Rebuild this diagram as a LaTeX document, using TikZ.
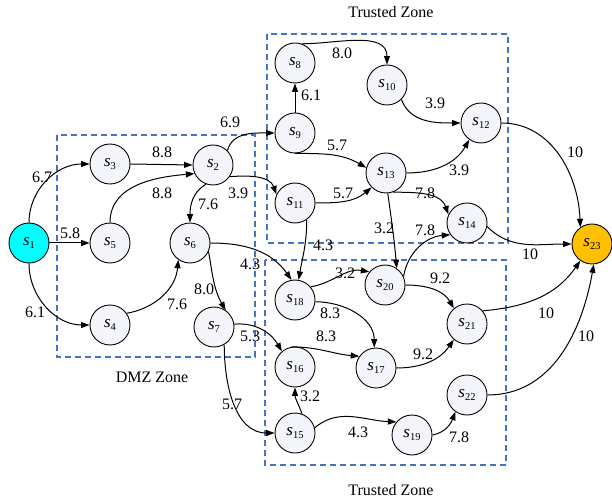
\documentclass[tikz,border=0pt]{standalone}
\usepackage{fontspec}
\setmainfont{Liberation Serif}
\usetikzlibrary{arrows.meta}
\definecolor{zoneblue}{RGB}{68,114,196}
\definecolor{nodefill}{RGB}{244,245,250}
\definecolor{srccyan}{RGB}{0,255,255}
\definecolor{dstgold}{RGB}{255,192,0}
% state name: italic s with a lowered index
\newcommand{\stname}[1]{\textit{s}\raisebox{-3.5pt}{\fontsize{10.5}{10.5}\selectfont #1}}
\tikzset{
  state/.style={circle, draw, line width=0.9pt, minimum size=40pt, inner sep=0pt,
    fill=nodefill, font=\fontsize{17}{17}\selectfont},
  source/.style={state, fill=srccyan},
  target/.style={state, fill=dstgold},
  wt/.style={font=\fontsize{16}{16}\selectfont, inner sep=0pt},
  zonelabel/.style={font=\fontsize{16}{16}\selectfont, inner sep=0pt},
  link/.style={line width=1pt, -{Triangle[length=8.5pt,width=6pt]}},
  zone/.style={draw=zoneblue, dash pattern=on 6pt off 4pt, line width=1.2pt}
}
\begin{document}
\begin{tikzpicture}[x=1pt,y=1pt]
\useasboundingbox (0,0) rectangle (612,-502);

% zones
\draw[zone] (57,-135) rectangle (255,-357);
\draw[zone] (267,-34) rectangle (508,-243);
\draw[zone] (265,-260) rectangle (506,-465);
\node[zonelabel] (zdmz) at (152,-377) {DMZ Zone};
\node[zonelabel] (ztop) at (391,-12) {Trusted Zone};
\node[zonelabel] (zbot) at (391,-490) {Trusted Zone};

% states
\node[source] (s1)  at (29,-243)  {\stname{1}};
\node[state]  (s3)  at (110,-164) {\stname{3}};
\node[state]  (s5)  at (110,-243) {\stname{5}};
\node[state]  (s4)  at (110,-325) {\stname{4}};
\node[state]  (s2)  at (213,-165) {\stname{2}};
\node[state]  (s6)  at (190,-243) {\stname{6}};
\node[state]  (s7)  at (214,-327) {\stname{7}};
\node[state]  (s8)  at (295,-63)  {\stname{8}};
\node[state]  (s9)  at (295,-133) {\stname{9}};
\node[state]  (s10) at (387,-85)  {\stname{10}};
\node[state]  (s11) at (295,-203) {\stname{11}};
\node[state]  (s12) at (481,-123) {\stname{12}};
\node[state]  (s13) at (386,-173) {\stname{13}};
\node[state]  (s14) at (467,-223) {\stname{14}};
\node[state]  (s18) at (295,-300) {\stname{18}};
\node[state]  (s20) at (385,-285) {\stname{20}};
\node[state]  (s21) at (467,-324) {\stname{21}};
\node[state]  (s16) at (295,-367) {\stname{16}};
\node[state]  (s17) at (376,-368) {\stname{17}};
\node[state]  (s22) at (467,-395) {\stname{22}};
\node[state]  (s15) at (295,-433) {\stname{15}};
\node[state]  (s19) at (412,-435) {\stname{19}};
\node[target] (s23) at (592,-244) {\stname{23}};

% connectors
\draw[link] (s1.north) to[out=90,in=180] (s3.west);
\draw[link] (s1.east) -- (s5.west);
\draw[link] (s1.south) to[out=-90,in=180] (s4.west);
\draw[link] (s3.east) -- (s2.west);
\draw[link] (s5.north) to[out=90,in=185] (s2.205);
\draw[link] (s4.35) to[out=10,in=-95] (s6.235);
\draw[link] (s2.250) to[out=210,in=90] (s6.north);
\draw[link] (s2.45) to[out=75,in=180] (s9.west);
\draw[link] (s2.-35) to[out=5,in=110] (s11.155);
\draw[link] (s6.east) to[out=0,in=125] (s18.100);
\draw[link] (s6.-25) to[out=-80,in=120] (s7.55);
\draw[link] (s9.north) -- (s8.south);
\draw[link] (s8.70) to[out=0,in=90] (s10.north);
\draw[link] (s10.-45) to[out=-70,in=180] (s12.west);
\draw[link] (s9.south) to[out=0,in=150] (s13.165);
\draw[link] (s13.east) to[out=0,in=240] (s12.235);
\draw[link] (s11.east) to[out=0,in=220] (s13.225);
\draw[link] (s13.-70) to[out=0,in=110] (s14.155);
\draw[link] (s13.-85) to[out=-82,in=95] (s20.55);
\draw[link] (s11.-55) to[out=-90,in=80] (s18.80);
\draw[link] (s14.-10) to[out=-45,in=180] (s23.west);
\draw[link] (s12.east) to[out=0,in=92] (s23.125);
\draw[link] (s21.40) to[out=5,in=235] (s23.235);
\draw[link] (s22.east) to[out=0,in=-100] (s23.-85);
\draw[link] (s18.40) to[out=10,in=170] (s20.140);
\draw[link] (s20.25) to[out=80,in=185] (s14.215);
\draw[link] (s20.east) to[out=0,in=120] (s21.130);
\draw[link] (s18.-5) to[out=0,in=90] (s17.95);
\draw[link] (s16.100) to[out=0,in=175] (s17.145);
\draw[link] (s17.east) to[out=0,in=235] (s21.230);
\draw[link] (s7.8) to[out=5,in=120] (s16.130);
\draw[link] (s7.-60) to[out=-90,in=180] (s15.west);
\draw[link] (s15.70) to[out=110,in=-90] (s16.south);
\draw[link] (s15.15) to[out=40,in=178] (s19.140);
\draw[link] (s19.east) to[out=10,in=250] (s22.235);

% weights
\node[wt] (w13)  at (42,-177)  {6.7};
\node[wt] (w15)  at (70,-233)  {5.8};
\node[wt] (w14)  at (35,-312)  {6.1};
\node[wt] (w32)  at (162,-152) {8.8};
\node[wt] (w52)  at (162,-193) {8.8};
\node[wt] (w46)  at (177,-304) {7.6};
\node[wt] (w26)  at (208,-204) {7.6};
\node[wt] (w29)  at (230,-122) {6.9};
\node[wt] (w211) at (238,-193) {3.9};
\node[wt] (w618) at (250,-264) {4.3};
\node[wt] (w67)  at (204,-289) {8.0};
\node[wt] (w98)  at (311,-95)  {6.1};
\node[wt] (w810) at (342,-53)  {8.0};
\node[wt] (w1012) at (435,-103) {3.9};
\node[wt] (w913) at (337,-145) {5.7};
\node[wt] (w1312) at (459,-170) {3.9};
\node[wt] (w1113) at (343,-193) {5.7};
\node[wt] (w1314) at (425,-193) {7.8};
\node[wt] (w1320) at (384,-228) {3.2};
\node[wt] (w1118) at (323,-245) {4.3};
\node[wt] (w1423) at (530,-254) {10};
\node[wt] (w1223) at (575,-152) {10};
\node[wt] (w2123) at (546,-313) {10};
\node[wt] (w2223) at (586,-336) {10};
\node[wt] (w1820) at (345,-273) {3.2};
\node[wt] (w2014) at (425,-230) {7.8};
\node[wt] (w2021) at (440,-278) {9.2};
\node[wt] (w1817) at (330,-313) {8.3};
\node[wt] (w1617) at (326,-336) {8.3};
\node[wt] (w1721) at (423,-354) {9.2};
\node[wt] (w716)  at (250,-336) {5.3};
\node[wt] (w715)  at (232,-404) {5.7};
\node[wt] (w1516) at (310,-396) {3.2};
\node[wt] (w1519) at (358,-432) {4.3};
\node[wt] (w1922) at (459,-437) {7.8};
\end{tikzpicture}
\end{document}
